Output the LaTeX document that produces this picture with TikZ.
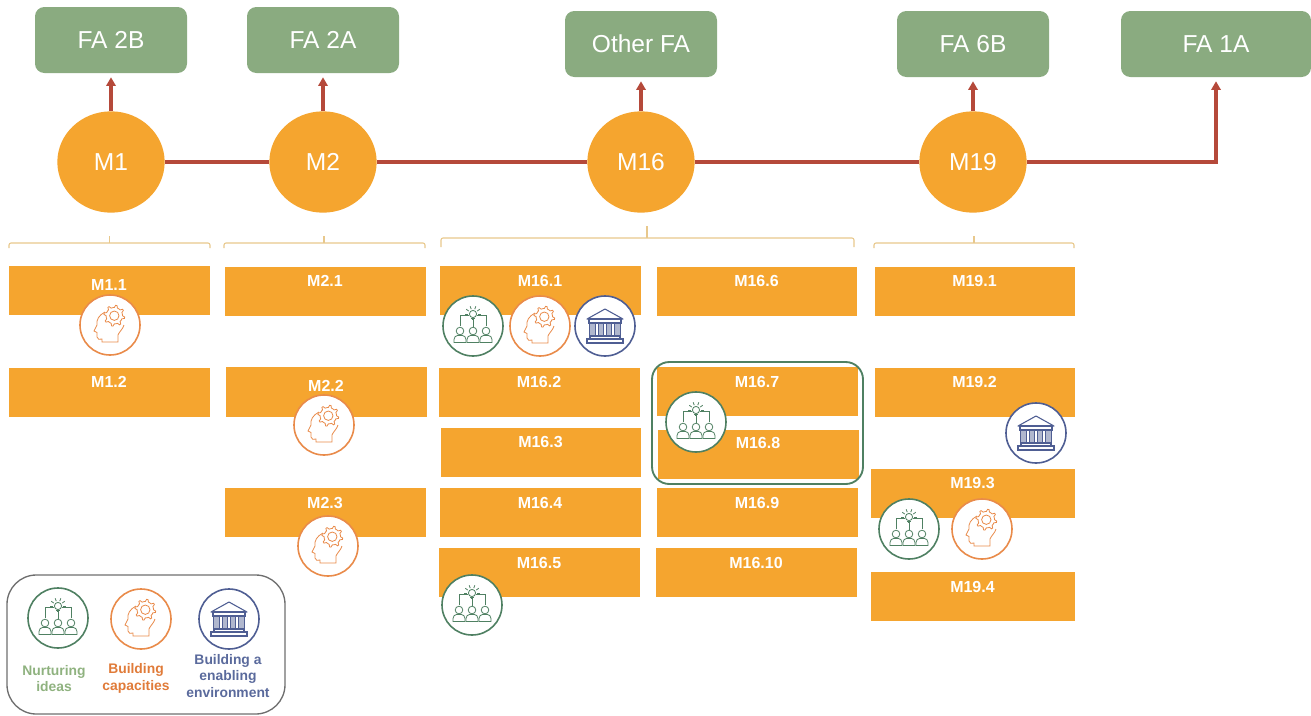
\documentclass[tikz,border=0pt]{standalone}
\usepackage{fontspec}
\setmainfont{Liberation Sans}
\usetikzlibrary{arrows.meta,shapes.geometric}
\definecolor{barorange}{HTML}{F5A52F}
\definecolor{boxgreen}{HTML}{8AAB80}
\definecolor{linkred}{HTML}{B5493A}
\definecolor{bracketc}{HTML}{E8C88C}
\definecolor{icongreen}{HTML}{4F8062}
\definecolor{iconorange}{HTML}{E98B4A}
\definecolor{iconblue}{HTML}{4F5E93}
\definecolor{legendgray}{HTML}{6E6E6E}
\definecolor{txtgreen}{HTML}{8FB27F}
\definecolor{txtorange}{HTML}{E07B39}
\definecolor{txtblue}{HTML}{5A6A9C}
\tikzset{
  declare function={gearr(\t)=ifthenelse(sin(8*\t)>0,10.5,8.2);},
  fabox/.style={fill=boxgreen,rounded corners=7pt,text=white,font=\fontsize{18.4}{20}\selectfont,minimum height=49.5pt,inner sep=0pt},
  mcirc/.style={ellipse,fill=barorange,text=white,font=\fontsize{18.4}{20}\selectfont,minimum width=80.5pt,minimum height=76pt,inner sep=0pt},
  link/.style={draw=linkred,line width=2.5pt},
  linkarrow/.style={link,-{Triangle[length=6.5pt,width=7pt]},shorten >=3pt},
  barbox/.style={fill=barorange,inner sep=0pt},
  bartext/.style={text=white,font=\bfseries\fontsize{12}{14}\selectfont,inner sep=0pt},
  bracketline/.style={draw=bracketc,line width=.8pt,rounded corners=1.5pt},
  iconring/.style={fill=white,line width=1.2pt},
  legtext/.style={font=\bfseries\fontsize{10.4}{12.6}\selectfont,align=center,inner sep=0pt},
  ideas/.pic={
    \draw[iconring,draw=icongreen] (0,0) circle (30);
    \begin{scope}[draw=icongreen,line width=.6pt]
      \draw (0,-12) circle (3.6);
      \draw (-1.6,-8) -- (1.6,-8) (-1.2,-6.5) -- (1.2,-6.5);
      \foreach \a in {180,215,250,290,325,360}{\draw (0,-12)++(\a:5.2) -- ++(\a:3);}
      \draw (-3.6,-11) -- (-13,-11) -- (-13,0) (3.6,-11) -- (13,-11) -- (13,0) (0,-6) -- (0,1);
      \foreach \x in {-13,0,13}{
        \draw (\x,5) circle (3.8);
        \draw (\x-6,16.5) -- (\x-6,13.5) .. controls (\x-6,10.5) and (\x-4,10) .. (\x-2.5,9.5) -- (\x+2.5,9.5) .. controls (\x+4,10) and (\x+6,10.5) .. (\x+6,13.5) -- (\x+6,16.5) -- cycle;
      }
    \end{scope}
  },
  head/.pic={
    \draw[iconring,draw=iconorange] (0,0) circle (30);
    \begin{scope}[draw=iconorange,line width=.6pt]
      \draw (-5,-13) .. controls (-11,-10) and (-14,-5) .. (-13,0) -- (-16,6) -- (-13,7.5) -- (-13,12) .. controls (-13,15) and (-10,14.5) .. (-8,14) -- (-8,17) -- (8,17) -- (8,10) .. controls (9,7) and (13,4) .. (14,0);
      \draw plot[smooth cycle,domain=0:352.5,samples=48,tension=.2] ({4.3+gearr(\x)*cos(\x)},{-9.3+gearr(\x)*sin(\x)});
      \draw (4.3,-9.3) circle (4.7);
    \end{scope}
  },
  bank/.pic={
    \draw[iconring,draw=iconblue] (0,0) circle (30);
    \begin{scope}[draw=iconblue,line width=.8pt]
      \draw[line join=round] (-18,-7) -- (0,-17) -- (18,-7) -- cycle;
      \draw (-16,-7) rectangle (16,-3);
      \foreach \x in {-12.5,-4.2,4.2,12.5}{\draw[fill=iconblue!45] (\x-2.6,-3) rectangle (\x+2.6,10);}
      \draw (-15,10) rectangle (15,13) (-18,13) rectangle (18,17);
    \end{scope}
  }
}
% name, x1, y1, x2, y2, label, label y
\newcommand{\barcell}[7]{%
  \node[barbox,minimum width={(#4-#2)*.75pt},minimum height={(#5-#3)*.75pt}] (#1) at ({(#2+#4)/2},{(#3+#5)/2}) {};
  \node[bartext] (#1t) at ({(#2+#4)/2-.5},#7) {#6};
}
\begin{document}
\begin{tikzpicture}[x=.75pt,y=-.75pt]
\useasboundingbox (0,0) rectangle (1311,715);
% outcome boxes
\node[fabox,minimum width=114pt] (fa2b) at (111,40) {FA 2B};
\node[fabox,minimum width=114pt] (fa2a) at (323,40) {FA 2A};
\node[fabox,minimum width=114pt] (faot) at (641,44) {Other FA};
\node[fabox,minimum width=114pt] (fa6b) at (973,44) {FA 6B};
\node[fabox,minimum width=142.5pt] (fa1a) at (1216,44) {FA 1A};
% measures
\node[mcirc] (m1) at (111,162) {M1};
\node[mcirc] (m2) at (323,162) {M2};
\node[mcirc] (m16) at (641,162) {M16};
\node[mcirc] (m19) at (973,162) {M19};
% connectors
\draw[link] (m1) -- (m2);
\draw[link] (m2) -- (m16);
\draw[link] (m16) -- (m19);
\draw[linkarrow] (m1) -- (fa2b);
\draw[linkarrow] (m2) -- (fa2a);
\draw[linkarrow] (m16) -- (faot);
\draw[linkarrow] (m19) -- (fa6b);
\draw[linkarrow] (m19) -| (fa1a);
% brackets
\draw[bracketline] (9,248) -- (9,243) -- (210,243) -- (210,248);
\draw[bracketc,line width=.8pt] (109.5,243) -- (109.5,236);
\draw[bracketline] (224,248) -- (224,243) -- (425,243) -- (425,248);
\draw[bracketc,line width=.8pt] (324,243) -- (324,236);
\draw[bracketline] (441,247) -- (441,238) -- (854,238) -- (854,247);
\draw[bracketc,line width=.8pt] (647,238) -- (647,226);
\draw[bracketline] (874,248) -- (874,243) -- (1074,243) -- (1074,248);
\draw[bracketc,line width=.8pt] (974,243) -- (974,236);
% bars
\barcell{a1}{9}{266}{210}{315}{M1.1}{285}
\barcell{a2}{9}{368}{210}{417}{M1.2}{382}
\barcell{b1}{225}{267}{426}{316}{M2.1}{281}
\barcell{b2}{226}{367}{427}{417}{M2.2}{386}
\barcell{b3}{225}{488}{426}{537}{M2.3}{503}
\barcell{c1}{440}{266}{641}{315}{M16.1}{281}
\barcell{c2}{439}{368}{640}{417}{M16.2}{382}
\barcell{c3}{441}{428}{641}{477}{M16.3}{442}
\barcell{c4}{440}{488}{641}{537}{M16.4}{503}
\barcell{c5}{439}{548}{640}{597}{M16.5}{563}
\barcell{c6}{657}{267}{857}{316}{M16.6}{281}
\barcell{c7}{657}{367}{858}{416}{M16.7}{382}
\barcell{c8}{658}{430}{859}{479}{M16.8}{443}
\barcell{c9}{657}{488}{858}{537}{M16.9}{503}
\barcell{c10}{656}{548}{857}{597}{M16.10}{563}
\barcell{d1}{875}{267}{1075}{316}{M19.1}{281}
\barcell{d2}{875}{368}{1075}{417}{M19.2}{382}
\barcell{d3}{871}{469}{1075}{518}{M19.3}{483}
\barcell{d4}{871}{572}{1075}{621}{M19.4}{587}
% highlight
\draw[icongreen,line width=1.4pt,rounded corners=13pt] (652,362) rectangle (863,484);
% icons
\pic at (110,325) {head};
\pic at (324,425) {head};
\pic at (328,546) {head};
\pic at (540,326) {head};
\pic at (982,529) {head};
\pic at (473,326) {ideas};
\pic at (696,422) {ideas};
\pic at (472,605) {ideas};
\pic at (909,529) {ideas};
\pic at (605,326) {bank};
\pic at (1036,433) {bank};
% legend
\draw[legendgray,line width=1pt,rounded corners=22pt] (7,575) rectangle (285,714);
\pic at (58,618) {ideas};
\pic at (141,619) {head};
\pic at (229,619) {bank};
\node[legtext,text=txtgreen] (l1) at (54,678.5) {Nurturing\\ideas};
\node[legtext,text=txtorange] (l2) at (136,678.5) {Building\\capacities};
\node[legtext,text=txtblue] (l3) at (228,676) {Building a\\enabling\\environment};
\end{tikzpicture}
\end{document}
